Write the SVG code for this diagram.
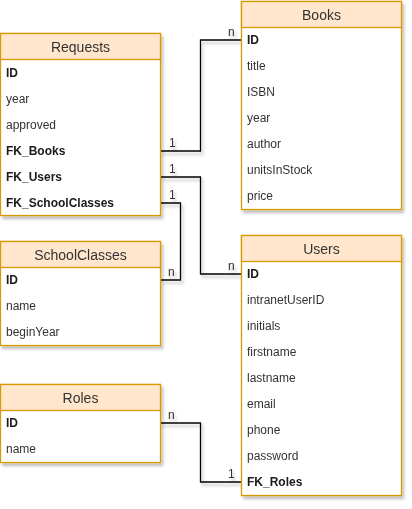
<svg xmlns="http://www.w3.org/2000/svg" width="412" height="509" viewBox="0 0 412 509">
<defs>
<filter id="sh" x="-10%" y="-10%" width="130%" height="130%">
<feDropShadow dx="2" dy="3" stdDeviation="1.5" flood-color="#000" flood-opacity="0.25"/>
</filter>
</defs>
<style>
.box{fill:#fff;stroke:#d79b00;stroke-width:1.3}
.hd{fill:#ffe6cc;stroke:#d79b00;stroke-width:1.3}
.t{font-family:"Liberation Sans",Arial,sans-serif;font-size:14px;fill:#333;text-anchor:middle}
.r{font-family:"Liberation Sans",Arial,sans-serif;font-size:12px;fill:#333}
.b{font-weight:bold;fill:#1a1a1a}
.c{fill:none;stroke:#000;stroke-width:1.3}
.l{font-family:"Liberation Sans",Arial,sans-serif;font-size:12px;fill:#333}
</style>
<rect width="412" height="509" fill="#fff"/>
<g id="connectors" filter="url(#sh)">
<path class="c" d="M160.5 151H200.5V40H241"/>
<path class="c" d="M160.5 177H200.5V274H241"/>
<path class="c" d="M160.5 203H180.5V280H160.5"/>
<path class="c" d="M160.5 423H200.5V482H241"/>
<text class="l" x="169" y="147">1</text>
<text class="l" x="228" y="36">n</text>
<text class="l" x="169" y="173">1</text>
<text class="l" x="228" y="270">n</text>
<text class="l" x="169" y="199">1</text>
<text class="l" x="168" y="276">n</text>
<text class="l" x="168" y="419">n</text>
<text class="l" x="228" y="478">1</text>
</g>
<g id="requests" filter="url(#sh)">
<rect class="box" x="0.5" y="33.5" width="160" height="182"/>
<rect class="hd" x="0.5" y="33.5" width="160" height="26"/>
<text class="t" x="80.5" y="52">Requests</text>
<text class="r b" x="6" y="77">ID</text>
<text class="r" x="6" y="103">year</text>
<text class="r" x="6" y="129">approved</text>
<text class="r b" x="6" y="155">FK_Books</text>
<text class="r b" x="6" y="181">FK_Users</text>
<text class="r b" x="6" y="207">FK_SchoolClasses</text>
</g>
<g id="books" filter="url(#sh)">
<rect class="box" x="241.5" y="1.5" width="160" height="208"/>
<rect class="hd" x="241.5" y="1.5" width="160" height="26"/>
<text class="t" x="321.5" y="20">Books</text>
<text class="r b" x="247" y="44">ID</text>
<text class="r" x="247" y="70">title</text>
<text class="r" x="247" y="96">ISBN</text>
<text class="r" x="247" y="122">year</text>
<text class="r" x="247" y="148">author</text>
<text class="r" x="247" y="174">unitsInStock</text>
<text class="r" x="247" y="200">price</text>
</g>
<g id="schoolclasses" filter="url(#sh)">
<rect class="box" x="0.5" y="241.5" width="160" height="104"/>
<rect class="hd" x="0.5" y="241.5" width="160" height="26"/>
<text class="t" x="80.5" y="260">SchoolClasses</text>
<text class="r b" x="6" y="284">ID</text>
<text class="r" x="6" y="310">name</text>
<text class="r" x="6" y="336">beginYear</text>
</g>
<g id="users" filter="url(#sh)">
<rect class="box" x="241.5" y="235.5" width="160" height="260"/>
<rect class="hd" x="241.5" y="235.5" width="160" height="26"/>
<text class="t" x="321.5" y="254">Users</text>
<text class="r b" x="247" y="278">ID</text>
<text class="r" x="247" y="304">intranetUserID</text>
<text class="r" x="247" y="330">initials</text>
<text class="r" x="247" y="356">firstname</text>
<text class="r" x="247" y="382">lastname</text>
<text class="r" x="247" y="408">email</text>
<text class="r" x="247" y="434">phone</text>
<text class="r" x="247" y="460">password</text>
<text class="r b" x="247" y="486">FK_Roles</text>
</g>
<g id="roles" filter="url(#sh)">
<rect class="box" x="0.5" y="384.5" width="160" height="78"/>
<rect class="hd" x="0.5" y="384.5" width="160" height="26"/>
<text class="t" x="80.5" y="403">Roles</text>
<text class="r b" x="6" y="427">ID</text>
<text class="r" x="6" y="453">name</text>
</g>
</svg>
